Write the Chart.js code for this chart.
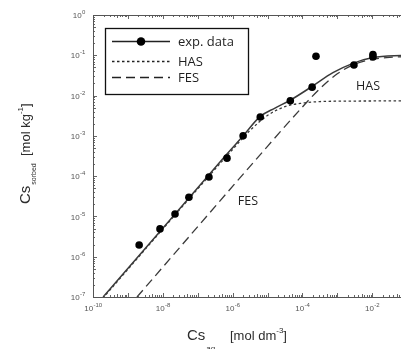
<!DOCTYPE html>
<html><head><meta charset="utf-8">
<script src="https://cdn.jsdelivr.net/npm/chart.js@4/dist/chart.umd.min.js"></script>
<style>html,body{margin:0;padding:0;overflow:hidden;background:#fff;width:401px;height:349px}canvas{display:block}</style>
</head><body><canvas id="c" width="460" height="349"></canvas>
<script>
// experimental data (Cs aq [mol dm-3], Cs sorbed [mol kg-1])
const xExp = [2.1e-9, 8.3e-9, 2.24e-8, 5.6e-8, 2.1e-7, 6.9e-7, 2.0e-6, 6.2e-6, 4.5e-5, 1.9e-4, 2.45e-4, 3.0e-3, 1.05e-2, 1.05e-2];
const yExp = [1.95e-6, 4.9e-6, 1.15e-5, 3.0e-5, 9.5e-5, 2.8e-4, 1.0e-3, 2.95e-3, 7.4e-3, 1.62e-2, 9.5e-2, 5.75e-2, 0.105, 0.091];
// model total (solid)
const xTotal = [1.95e-10, 1.0e-8, 6.3e-7, 2.0e-6, 6.1e-6, 1.64e-5, 4.4e-5, 1.88e-4, 7.5e-4, 2.8e-3, 1.05e-2, 6.7e-2, 1];
const yTotal = [1.0e-7, 5.1e-6, 3.24e-4, 1.0e-3, 3.0e-3, 4.9e-3, 7.6e-3, 1.68e-2, 3.7e-2, 6.3e-2, 8.8e-2, 9.9e-2, 0.105];
// HAS component (dotted)
const xHAS = [1.9e-10, 1.0e-6, 3.16e-6, 1.0e-5, 3.16e-5, 1.0e-4, 3.16e-4, 1.0e-3, 1];
const yHAS = [9.3e-8, 4.6e-4, 1.36e-3, 3.2e-3, 5.3e-3, 6.5e-3, 7.1e-3, 7.25e-3, 7.4e-3];
// FES component (dashed)
const xFES = [1.82e-9, 1.0e-5, 1.0e-4, 3.16e-4, 1.0e-3, 3.16e-3, 1.0e-2, 3.16e-2, 0.1, 1];
const yFES = [1.0e-7, 5.5e-4, 5.2e-3, 1.48e-2, 3.47e-2, 6.0e-2, 7.9e-2, 8.9e-2, 9.2e-2, 9.3e-2];
// tick labels (decade exponents)
const xTickExps = [-10, -8, -6, -4, -2, 0];
const yTickExps = [0, -1, -2, -3, -4, -5, -6, -7];

const pts = (xs, ys) => xs.map((x, i) => ({x, y: ys[i]}));
const INK = '#1f1f1f';

const decor = {
  id: 'decor',
  afterDraw(chart) {
    const ctx = chart.ctx, a = chart.chartArea, xs = chart.scales.x, ys = chart.scales.y;
    ctx.save();
    // frame
    ctx.strokeStyle = '#555'; ctx.lineWidth = 1;
    ctx.strokeRect(Math.round(a.left) + 0.5, Math.round(a.top) + 0.5, Math.round(a.right - a.left), Math.round(a.bottom - a.top));
    // ticks (inward on all sides)
    ctx.strokeStyle = '#555'; ctx.lineWidth = 0.9;
    ctx.beginPath();
    for (let d = -10; d < 0; d++) for (let m = 1; m <= 9; m++) {
      const px = Math.round(xs.getPixelForValue(m * Math.pow(10, d))) + 0.5;
      const L = m === 1 ? 4 : (m === 5 ? 3 : 2);
      ctx.moveTo(px, a.bottom); ctx.lineTo(px, a.bottom - L);
      ctx.moveTo(px, a.top); ctx.lineTo(px, a.top + L);
    }
    for (let d = -7; d < 0; d++) for (let m = 1; m <= 9; m++) {
      const py = Math.round(ys.getPixelForValue(m * Math.pow(10, d))) + 0.5;
      const L = m === 1 ? 4 : (m === 5 ? 3 : 2);
      ctx.moveTo(a.left, py); ctx.lineTo(a.left + L, py);
      ctx.moveTo(a.right, py); ctx.lineTo(a.right - L, py);
    }
    ctx.stroke();
    // tick labels
    ctx.fillStyle = '#555';
    const pow = (e, cx, cy, align) => {
      ctx.font = '8px "Liberation Sans", Arial, sans-serif';
      const w1 = ctx.measureText('10').width;
      ctx.font = '6px "Liberation Sans", Arial, sans-serif';
      const w2 = ctx.measureText(String(e)).width;
      const w = w1 + w2;
      let x0 = align === 'right' ? cx - w : cx - w / 2;
      ctx.textBaseline = 'middle'; ctx.textAlign = 'left';
      ctx.font = '8px "Liberation Sans", Arial, sans-serif';
      ctx.fillText('10', x0, cy + 1);
      ctx.font = '6px "Liberation Sans", Arial, sans-serif';
      ctx.fillText(String(e), x0 + w1 + 0.3, cy - 2.5);
    };
    xTickExps.forEach(e => pow(e, xs.getPixelForValue(Math.pow(10, e)), a.bottom + 11, 'center'));
    yTickExps.forEach(e => pow(e, a.left - 8, ys.getPixelForValue(Math.pow(10, e)), 'right'));
    // axis titles
    ctx.fillStyle = '#2d2d2d'; ctx.textAlign = 'left'; ctx.textBaseline = 'alphabetic';
    const F = s => s + 'px "Liberation Sans", Arial, sans-serif';
    // x title
    let x = 187, y = 340;
    ctx.font = F(15); ctx.fillText('Cs', x, y); x += ctx.measureText('Cs').width + 1;
    ctx.font = F(8); ctx.fillText('aq', x, y + 11); x = 230;
    ctx.font = F(13); ctx.fillText('[mol dm', x, y); x += ctx.measureText('[mol dm').width;
    ctx.font = F(8); ctx.fillText('-3', x, y - 7); x += ctx.measureText('-3').width;
    ctx.font = F(13); ctx.fillText(']', x, y);
    // y title
    ctx.save(); ctx.translate(30, 204); ctx.rotate(-Math.PI / 2);
    x = 0; y = 0;
    ctx.font = F(15); ctx.fillText('Cs', x, y); x += ctx.measureText('Cs').width + 1;
    ctx.font = F(7); ctx.fillText('sorbed', x, y + 6); x = 48;
    ctx.font = F(13); ctx.fillText('[mol kg', x, y); x += ctx.measureText('[mol kg').width;
    ctx.font = F(8); ctx.fillText('-1', x, y - 7); x += ctx.measureText('-1').width;
    ctx.font = F(13); ctx.fillText(']', x, y);
    ctx.restore();
    // region labels
    ctx.fillStyle = INK; ctx.font = '12.5px "Open Sans", sans-serif'; ctx.textAlign = 'center'; ctx.textBaseline = 'middle';
    ctx.fillText('HAS', 368, 86);
    ctx.fillText('FES', 248, 201);
    // legend
    ctx.strokeStyle = '#111'; ctx.lineWidth = 1.3; ctx.setLineDash([]);
    ctx.strokeRect(105.5, 28.5, 143, 66);
    const ds = chart.data.datasets;
    const rows = [[41, ds[1], true, 'exp. data'], [61, ds[2], false, 'HAS'], [77, ds[3], false, 'FES']];
    rows.forEach(([ry, d, mk, txt]) => {
      ctx.strokeStyle = '#222'; ctx.lineWidth = d.borderWidth; ctx.setLineDash(d.borderDash || []);
      ctx.beginPath(); ctx.moveTo(112, ry + 0.5); ctx.lineTo(170, ry + 0.5); ctx.stroke();
      ctx.setLineDash([]);
      if (mk) { ctx.fillStyle = '#000'; ctx.beginPath(); ctx.arc(141, ry + 0.5, 4.3, 0, Math.PI * 2); ctx.fill(); }
      ctx.fillStyle = INK; ctx.font = '13px "Open Sans", sans-serif'; ctx.textAlign = 'left'; ctx.textBaseline = 'middle';
      ctx.fillText(txt, 178, ry + 1);
    });
    ctx.restore();
  }
};

new Chart(document.getElementById('c'), {
  type: 'scatter',
  data: { datasets: [
    { label: 'exp. data', data: pts(xExp, yExp), showLine: false, pointRadius: 3.8, pointBackgroundColor: '#000', pointBorderColor: '#000', pointBorderWidth: 0, order: 0 },
    { label: 'model', data: pts(xTotal, yTotal), showLine: true, pointRadius: 0, borderColor: '#3a3a3a', borderWidth: 1.5, cubicInterpolationMode: 'monotone', order: 1 },
    { label: 'HAS', data: pts(xHAS, yHAS), showLine: true, pointRadius: 0, borderColor: '#3a3a3a', borderWidth: 1.3, borderDash: [2.5, 2.5], cubicInterpolationMode: 'monotone', order: 2 },
    { label: 'FES', data: pts(xFES, yFES), showLine: true, pointRadius: 0, borderColor: '#3a3a3a', borderWidth: 1.3, borderDash: [9, 5], cubicInterpolationMode: 'monotone', order: 3 }
  ]},
  options: {
    responsive: false, animation: false, devicePixelRatio: 1,
    layout: { padding: { left: 93, top: 15, right: 18, bottom: 52 } },
    plugins: { legend: { display: false }, tooltip: { enabled: false } },
    scales: {
      x: { type: 'logarithmic', min: 1e-10, max: 1, display: false },
      y: { type: 'logarithmic', min: 1e-7, max: 1, display: false }
    }
  },
  plugins: [decor]
});
</script>
</body></html>
